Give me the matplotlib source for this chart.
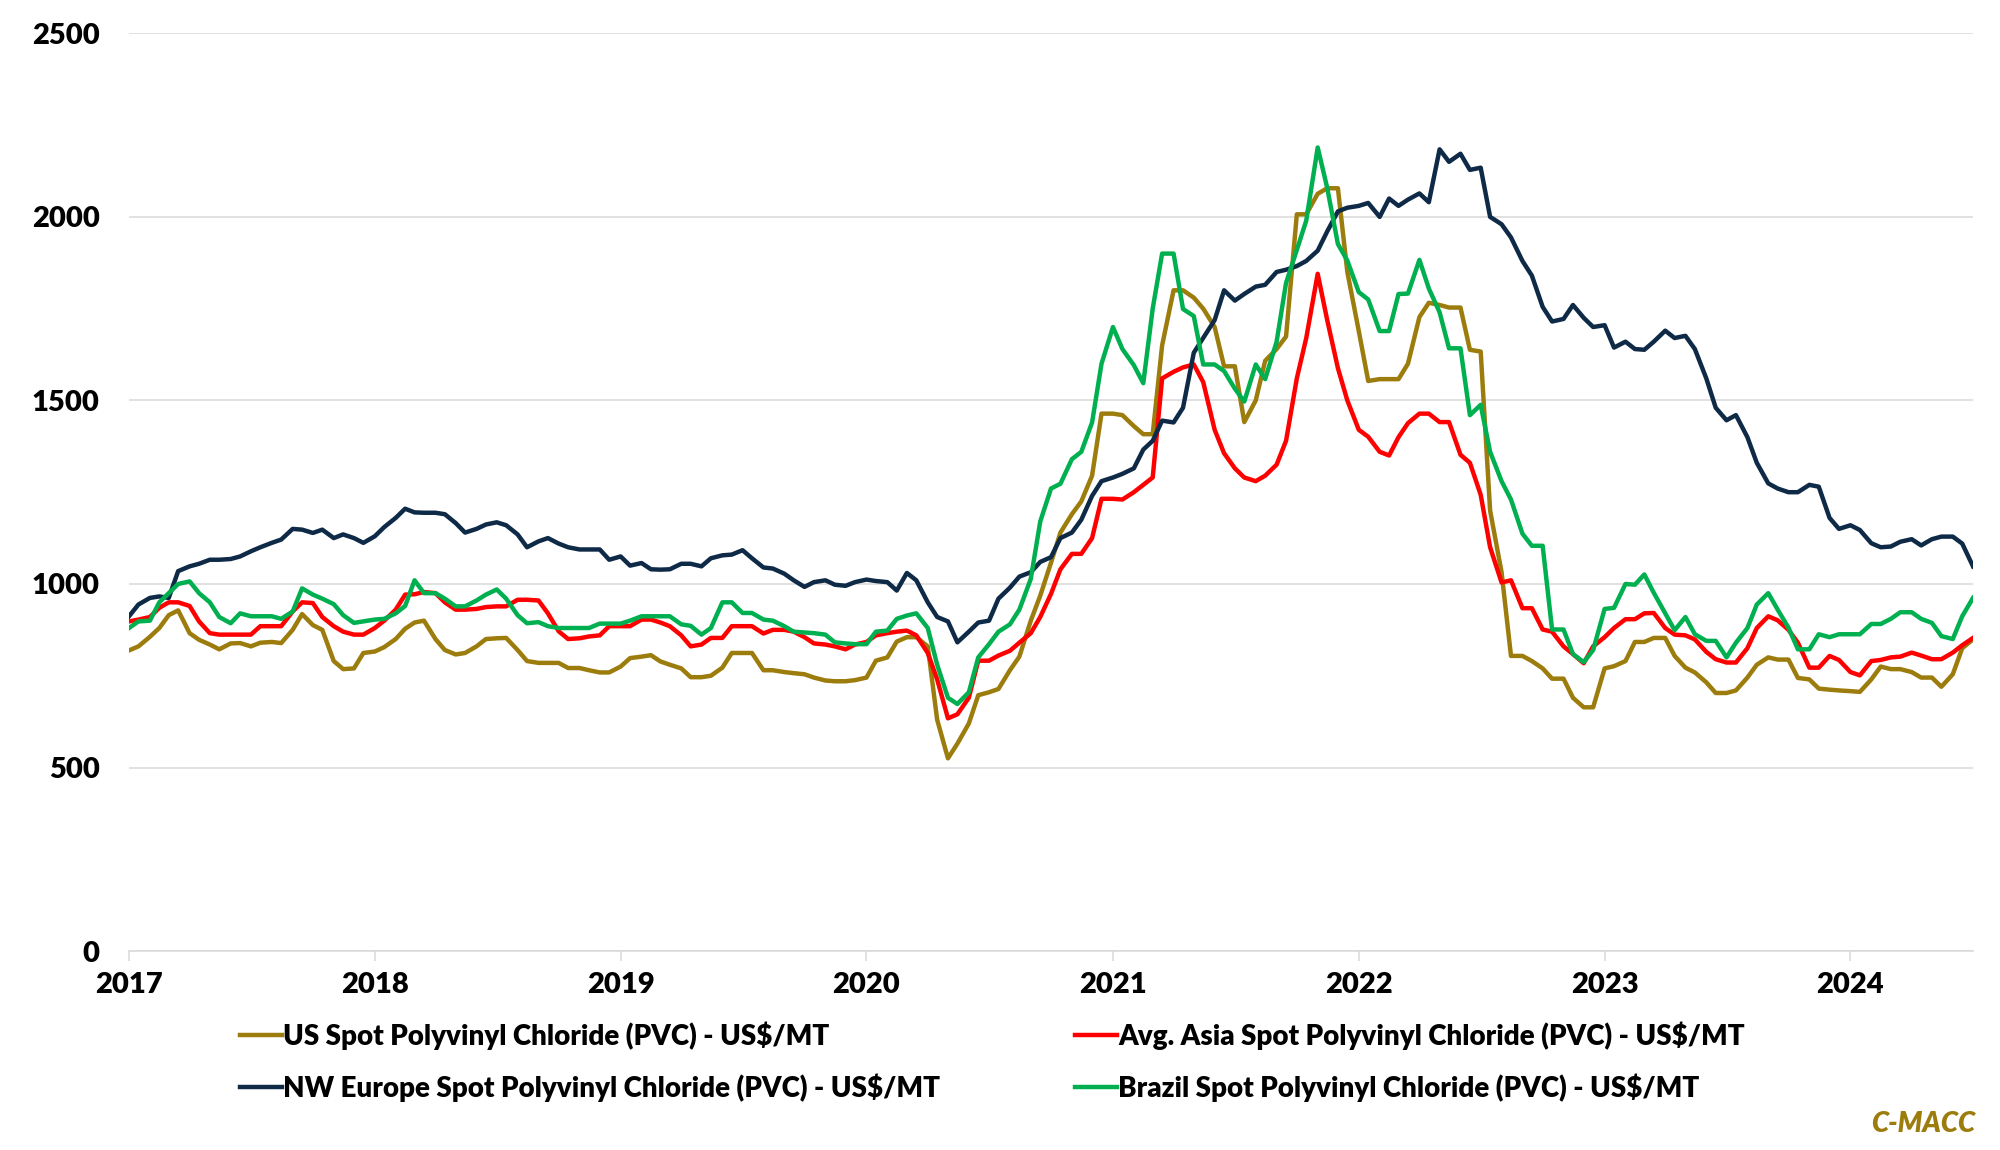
import matplotlib
matplotlib.use("Agg")
import matplotlib.pyplot as plt
import pandas as pd

plt.rcParams['font.family'] = ['Lato', 'DejaVu Sans']

# semi-monthly dates, 1st and 15th of each month
dates = pd.date_range('2017-01-01', '2024-07-01', freq='SMS')

years = ['2017', '2018', '2019', '2020', '2021', '2022', '2023', '2024']

us_pvc = [
    819, 830, 856, 880, 915, 928, 866, 848, 835, 822, 838, 839, 830, 840, 842, 839, 875, 918, 888, 875, 790, 768, 770, 812,
    816, 828, 850, 878, 895, 900, 850, 820, 808, 812, 830, 850, 852, 853, 820, 790, 785, 785, 785, 771, 771, 765, 759, 759,
    775, 798, 802, 806, 789, 780, 770, 746, 746, 750, 772, 812, 812, 812, 765, 765, 760, 757, 754, 745, 737, 735, 735, 738,
    745, 791, 800, 843, 855, 855, 830, 630, 525, 565, 620, 697, 705, 714, 765, 802, 900, 968, 1058, 1140, 1190, 1225, 1295, 1464,
    1464, 1460, 1430, 1408, 1408, 1650, 1800, 1800, 1780, 1750, 1700, 1593, 1593, 1441, 1500, 1608, 1640, 1674, 2007, 2007, 2063, 2078, 2078, 1850,
    1689, 1553, 1558, 1558, 1558, 1600, 1727, 1766, 1760, 1753, 1753, 1638, 1633, 1200, 1032, 804, 804, 790, 770, 742, 742, 690, 664, 664,
    770, 776, 790, 842, 842, 853, 853, 804, 772, 759, 732, 703, 703, 710, 745, 780, 800, 794, 794, 744, 740, 715, 712, 710,
    708, 706, 740, 775, 768, 768, 760, 745, 745, 720, 754, 825, 849,
]

asia_pvc = [
    898, 903, 910, 935, 950, 950, 940, 898, 866, 862, 862, 862, 862, 885, 885, 885, 925, 950, 948, 910, 885, 870, 862, 862,
    880, 900, 930, 971, 972, 978, 975, 950, 930, 930, 932, 937, 939, 939, 957, 957, 955, 920, 871, 850, 852, 857, 860, 885,
    885, 885, 903, 903, 895, 885, 860, 830, 835, 853, 853, 885, 885, 885, 865, 875, 875, 870, 855, 838, 835, 830, 822, 835,
    842, 860, 866, 870, 873, 860, 812, 740, 634, 645, 690, 791, 791, 805, 818, 840, 866, 910, 973, 1040, 1082, 1082, 1125, 1232,
    1232, 1230, 1250, 1270, 1290, 1560, 1578, 1590, 1598, 1550, 1420, 1356, 1315, 1290, 1280, 1295, 1325, 1390, 1560, 1670, 1845, 1720, 1588, 1500,
    1420, 1401, 1360, 1350, 1400, 1438, 1464, 1464, 1441, 1441, 1352, 1330, 1243, 1100, 1004, 1010, 934, 934, 876, 870, 830, 809, 784, 830,
    855, 880, 904, 904, 920, 921, 880, 862, 860, 849, 815, 795, 786, 786, 825, 880, 912, 901, 875, 840, 772, 772, 804, 793,
    760, 751, 790, 793, 800, 802, 813, 805, 795, 795, 813, 833, 853,
]

nwe_pvc = [
    912, 944, 962, 966, 962, 1035, 1048, 1055, 1066, 1066, 1068, 1075, 1089, 1100, 1112, 1121, 1150, 1148, 1139, 1148, 1125, 1135, 1125, 1112,
    1130, 1155, 1180, 1205, 1195, 1194, 1194, 1190, 1166, 1140, 1150, 1162, 1168, 1160, 1135, 1100, 1116, 1125, 1110, 1100, 1094, 1094, 1094, 1066,
    1075, 1050, 1057, 1040, 1039, 1040, 1055, 1055, 1048, 1070, 1078, 1080, 1092, 1070, 1045, 1042, 1028, 1010, 992, 1005, 1010, 998, 995, 1005,
    1012, 1008, 1005, 982, 1030, 1010, 950, 910, 898, 841, 870, 895, 900, 960, 990, 1020, 1032, 1060, 1073, 1125, 1140, 1175, 1240, 1280,
    1290, 1300, 1315, 1366, 1390, 1445, 1440, 1480, 1630, 1670, 1719, 1800, 1772, 1790, 1810, 1815, 1850, 1856, 1866, 1880, 1908, 1960, 2015, 2025,
    2030, 2038, 2000, 2050, 2030, 2047, 2064, 2040, 2184, 2150, 2172, 2128, 2134, 2000, 1980, 1944, 1880, 1840, 1755, 1715, 1722, 1760, 1725, 1700,
    1705, 1644, 1660, 1640, 1638, 1660, 1690, 1670, 1676, 1640, 1560, 1480, 1446, 1460, 1400, 1330, 1274, 1260, 1250, 1250, 1270, 1265, 1180, 1150,
    1160, 1147, 1111, 1100, 1102, 1115, 1122, 1105, 1122, 1129, 1129, 1110, 1048,
]

brazil_pvc = [
    880, 898, 900, 950, 975, 1000, 1007, 975, 950, 910, 893, 920, 912, 912, 912, 905, 925, 988, 971, 960, 945, 915, 894, 898,
    903, 905, 920, 940, 1010, 975, 975, 960, 939, 939, 955, 971, 985, 960, 915, 893, 896, 885, 880, 880, 880, 880, 892, 892,
    892, 900, 912, 912, 912, 912, 890, 886, 862, 880, 950, 950, 921, 921, 903, 900, 885, 870, 868, 866, 862, 841, 838, 836,
    836, 870, 873, 905, 914, 920, 880, 780, 690, 673, 705, 800, 836, 870, 890, 930, 1014, 1170, 1260, 1273, 1340, 1360, 1440, 1600,
    1700, 1640, 1596, 1547, 1750, 1900, 1900, 1749, 1730, 1598, 1598, 1580, 1532, 1497, 1598, 1558, 1660, 1820, 1910, 1990, 2189, 2080, 1926, 1881,
    1795, 1775, 1689, 1689, 1790, 1791, 1883, 1805, 1740, 1642, 1642, 1460, 1488, 1360, 1280, 1230, 1137, 1104, 1104, 876, 876, 809, 787, 820,
    932, 935, 1000, 998, 1026, 976, 920, 874, 910, 863, 845, 845, 800, 840, 880, 944, 975, 930, 881, 822, 822, 863, 855, 863,
    863, 863, 891, 891, 905, 923, 923, 905, 894, 858, 850, 912, 962,
]

labels = ['US Spot Polyvinyl Chloride (PVC) - US$/MT',
          'Avg. Asia Spot Polyvinyl Chloride (PVC) - US$/MT',
          'NW Europe Spot Polyvinyl Chloride (PVC) - US$/MT',
          'Brazil Spot Polyvinyl Chloride (PVC) - US$/MT']
colors = ['#9C7C0C', '#FF0000', '#0E2A47', '#00B050']
series = [us_pvc, asia_pvc, nwe_pvc, brazil_pvc]

fig = plt.figure(figsize=(20, 11.5), dpi=100)
ax = fig.add_axes([0.0645, 0.173, 0.922, 0.798])

lines = []
for vals, col, lab in zip(series, colors, labels):
    ln, = ax.plot(dates, vals, color=col, lw=3.2, label=lab, solid_joinstyle='round')
    lines.append(ln)

ax.set_ylim(0, 2500)
ax.set_yticks(range(0, 2501, 500))
ax.set_xlim(pd.Timestamp('2017-01-01'), pd.Timestamp('2024-07-01'))
ax.set_xticks([pd.Timestamp(y + '-01-01') for y in years])
ax.set_xticklabels(years)

ax.grid(axis='y', color='#D9D9D9', lw=1.1)
ax.set_axisbelow(True)
for s in ['top', 'right', 'left']:
    ax.spines[s].set_visible(False)
ax.spines['bottom'].set_color('#D9D9D9')
ax.spines['bottom'].set_linewidth(1.1)
ax.tick_params(axis='y', length=0, pad=21, labelsize=21)
ax.tick_params(axis='x', length=7, width=1.1, color='#D9D9D9', pad=8, labelsize=21)
for t in ax.get_xticklabels() + ax.get_yticklabels():
    t.set_fontweight('heavy')

leg_kw = dict(frameon=False, prop={'size': 20, 'weight': 'heavy'}, handlelength=1.5,
              handletextpad=0.05, labelspacing=0.85, borderpad=0, borderaxespad=0, loc='upper left')
leg1 = fig.legend([lines[0], lines[2]], [labels[0], labels[2]],
                  bbox_to_anchor=(240 / 2000, 1 - 1021 / 1150), **leg_kw)
leg2 = fig.legend([lines[1], lines[3]], [labels[1], labels[3]],
                  bbox_to_anchor=(1075 / 2000, 1 - 1021 / 1150), **leg_kw)

fig.text(1975 / 2000, 1 - 1124 / 1150, 'C-MACC', color='#9C7C0C', fontsize=20,
         fontweight='heavy', fontstyle='italic', ha='right', va='center')

fig.savefig('out.png', dpi=100)
